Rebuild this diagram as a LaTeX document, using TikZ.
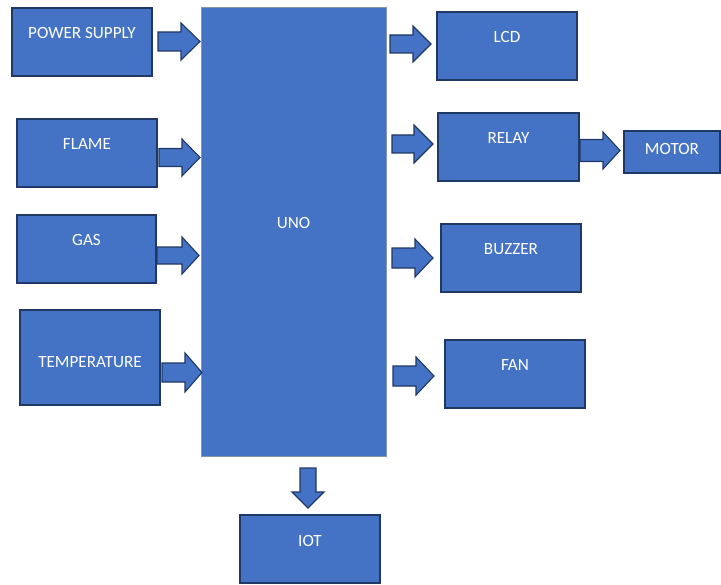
\documentclass[tikz,border=0pt]{standalone}
\usepackage{fontspec}
\setmainfont{Carlito}
\usetikzlibrary{calc}
\definecolor{boxfill}{HTML}{4472C4}
\definecolor{boxline}{HTML}{1F3864}
\definecolor{unoline}{HTML}{8497B0}
\tikzset{
  blk/.style={draw=boxline, line width=1.6pt, fill=boxfill, inner sep=0pt},
  unoblk/.style={draw=unoline, line width=1pt, fill=boxfill, inner sep=0pt},
  txt/.style={text=white, font=\fontsize{17.2}{20}\selectfont, inner sep=0pt},
  barrow/.style={draw=boxline, line width=1.1pt, fill=boxfill, line join=miter},
}
% right arrow: x1, xh (head start), x2 (tip), yc, shaft half, head half
\newcommand{\rarrow}[6]{%
  \draw[barrow] (#1,#4-#5) -- (#2,#4-#5) -- (#2,#4-#6) -- (#3,#4) -- (#2,#4+#6) -- (#2,#4+#5) -- (#1,#4+#5) -- cycle;}
\begin{document}
\begin{tikzpicture}[x=1bp,y=-1bp]
\useasboundingbox (0,0) rectangle (721,585);
% boxes (center x, center y, width, height)
\node[unoblk, minimum width=185bp, minimum height=448bp] (uno) at (293.5,232) {};
\node[blk, minimum width=140bp, minimum height=68bp] (ps) at (82,42) {};
\node[blk, minimum width=140bp, minimum height=68bp] (flame) at (87,153) {};
\node[blk, minimum width=139bp, minimum height=68bp] (gas) at (86.5,249) {};
\node[blk, minimum width=140bp, minimum height=95bp] (temp) at (90,357.5) {};
\node[blk, minimum width=140bp, minimum height=68bp] (lcd) at (507,46) {};
\node[blk, minimum width=141bp, minimum height=68bp] (relay) at (508.5,147) {};
\node[blk, minimum width=96bp, minimum height=42bp] (motor) at (672,152) {};
\node[blk, minimum width=140bp, minimum height=68bp] (buzzer) at (511,258) {};
\node[blk, minimum width=140bp, minimum height=68bp] (fan) at (515,374) {};
\node[blk, minimum width=140bp, minimum height=68bp] (iot) at (310,549) {};
% labels
\node[txt] (tuno) at ($(uno.north)+(0,216)$) {UNO};
\node[txt] (tps) at ($(ps.north)+(0,26)$) {POWER SUPPLY};
\node[txt] (tflame) at ($(flame.north)+(0,26)$) {FLAME};
\node[txt] (tgas) at ($(gas.north)+(0,26)$) {GAS};
\node[txt] (ttemp) at ($(temp.north)+(0,53)$) {TEMPERATURE};
\node[txt] (tlcd) at ($(lcd.north)+(0,26)$) {LCD};
\node[txt] (trelay) at ($(relay.north)+(0,26)$) {RELAY};
\node[txt] (tmotor) at ($(motor.north)+(0,19)$) {MOTOR};
\node[txt] (tbuzzer) at ($(buzzer.north)+(0,26)$) {BUZZER};
\node[txt] (tfan) at ($(fan.north)+(0,26)$) {FAN};
\node[txt] (tiot) at ($(iot.north)+(0,27)$) {IOT};
% block arrows
\rarrow{158}{181}{200}{41.5}{9.5}{18.5}
\rarrow{159}{182}{200}{157.5}{9}{18.5}
\rarrow{157}{182}{199}{255.5}{8.5}{18.5}
\rarrow{162}{185}{202}{372.5}{9.5}{19.5}
\rarrow{390}{413}{431}{44}{9}{18}
\rarrow{392}{414}{433}{144}{9}{19}
\rarrow{580}{603}{620}{150.5}{11}{18.5}
\rarrow{392}{415}{433}{258}{10}{19}
\rarrow{393}{416}{434}{376}{10}{19}
% down arrow to IOT
\draw[barrow] (300,468) -- (316,468) -- (316,492) -- (324,492) -- (308,508) -- (292,492) -- (300,492) -- cycle;
\end{tikzpicture}
\end{document}
